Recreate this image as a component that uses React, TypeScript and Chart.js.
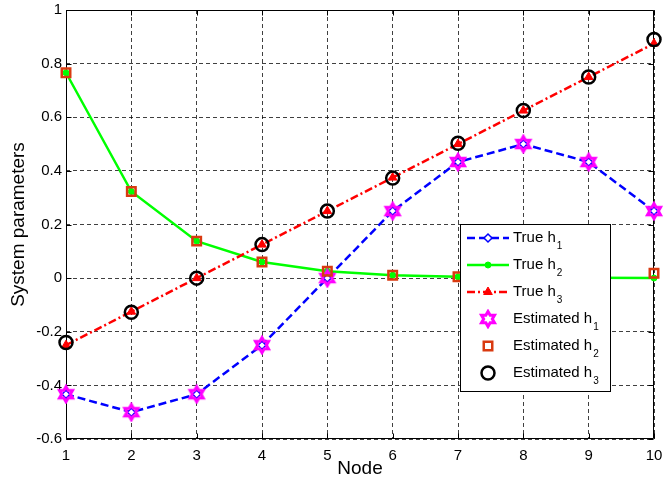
import React, { useEffect, useRef } from 'react';
import { Chart, registerables } from 'chart.js';
import { drawPoint } from 'chart.js/helpers';

Chart.register(...registerables);

const nodes = [1, 2, 3, 4, 5, 6, 7, 8, 9, 10];
const trueH1 = [-0.433, -0.5, -0.433, -0.25, 0, 0.25, 0.433, 0.5, 0.433, 0.25];
const trueH2 = [0.766, 0.323, 0.138, 0.06, 0.026, 0.011, 0.005, 0.002, 0.001, 0.0004];
const trueH3 = [-0.25, -0.125, 0, 0.125, 0.25, 0.375, 0.5, 0.625, 0.75, 0.875];
const estH1 = [-0.433, -0.5, -0.433, -0.25, 0, 0.25, 0.433, 0.5, 0.433, 0.25];
const estH2 = [0.766, 0.323, 0.138, 0.06, 0.026, 0.011, 0.005, 0.002, 0.001, 0.018];
const estH3 = [-0.24, -0.127, 0, 0.125, 0.25, 0.373, 0.503, 0.625, 0.75, 0.89];
const legendNames = ['True h', 'True h', 'True h', 'Estimated h', 'Estimated h', 'Estimated h'];
const legendSubs = ['1', '2', '3', '1', '2', '3'];
const xTitle = 'Node';
const yTitle = 'System parameters';

const FONT = '"Liberation Sans", Arial, Helvetica, sans-serif';

function makeStar(): HTMLCanvasElement {
  const c = document.createElement('canvas');
  c.width = 20;
  c.height = 20;
  const g = c.getContext('2d')!;
  const cx = 10, cy = 10, ro = 7.5, ri = 7.5 / Math.sqrt(3);
  g.beginPath();
  for (let k = 0; k < 12; k++) {
    const r = k % 2 === 0 ? ro : ri;
    const a = -Math.PI / 2 + (k * Math.PI) / 6;
    const px = cx + r * Math.cos(a);
    const py = cy + r * Math.sin(a);
    if (k === 0) g.moveTo(px, py);
    else g.lineTo(px, py);
  }
  g.closePath();
  g.strokeStyle = '#ff00ff';
  g.lineWidth = 3;
  g.lineJoin = 'miter';
  g.stroke();
  return c;
}

const pts = (ys: number[]) => nodes.map((n, i) => ({ x: n, y: ys[i] }));

const framePlugin = {
  id: 'matlabFrame',
  beforeDatasetsDraw(chart: any) {
    const { ctx, chartArea: a, scales } = chart;
    ctx.save();
    ctx.strokeStyle = '#000';
    ctx.lineWidth = 1;
    ctx.setLineDash([]);
    ctx.beginPath();
    const L = Math.round(a.left) + 0.5, R = Math.round(a.right) - 0.5;
    const T = Math.round(a.top) + 0.5, B = Math.round(a.bottom) - 0.5;
    ctx.rect(L, T, R - L, B - T);
    const len = 5;
    scales.x.ticks.forEach((t: any) => {
      const px = Math.round(scales.x.getPixelForValue(t.value)) + 0.5;
      ctx.moveTo(px, B); ctx.lineTo(px, B - len);
      ctx.moveTo(px, T); ctx.lineTo(px, T + len);
    });
    scales.y.ticks.forEach((t: any) => {
      const py = Math.round(scales.y.getPixelForValue(t.value)) + 0.5;
      ctx.moveTo(L, py); ctx.lineTo(L + len, py);
      ctx.moveTo(R, py); ctx.lineTo(R - len, py);
    });
    ctx.stroke();
    ctx.restore();
  },
  afterDraw(chart: any) {
    const ctx = chart.ctx;
    const L = 460, T = 224, R = 610, B = 391;
    ctx.save();
    ctx.fillStyle = '#fff';
    ctx.fillRect(L, T, R - L, B - T);
    ctx.strokeStyle = '#000';
    ctx.lineWidth = 1;
    ctx.setLineDash([]);
    ctx.strokeRect(L + 0.5, T + 0.5, R - L, B - T);
    const list = chart.data.datasets.map((ds: any, i: number) => ({ ds, i }));
    list.sort((p: any, q: any) => p.ds.legendIndex - q.ds.legendIndex);
    list.forEach(({ ds }: any, row: number) => {
      const y = 238 + row * 27;
      if (ds.showLine !== false) {
        ctx.beginPath();
        ctx.setLineDash(ds.borderDash || []);
        ctx.strokeStyle = ds.borderColor;
        ctx.lineWidth = ds.borderWidth;
        ctx.moveTo(467, y);
        ctx.lineTo(509, y);
        ctx.stroke();
        ctx.setLineDash([]);
      }
      ctx.strokeStyle = ds.pointBorderColor;
      ctx.fillStyle = ds.pointBackgroundColor;
      ctx.lineWidth = ds.pointBorderWidth;
      drawPoint(ctx, { pointStyle: ds.pointStyle, radius: ds.pointRadius, rotation: 0, borderWidth: ds.pointBorderWidth } as any, 488, y);
      ctx.fillStyle = '#000';
      ctx.textBaseline = 'alphabetic';
      ctx.textAlign = 'left';
      ctx.font = `15px ${FONT}`;
      const name = legendNames[ds.legendIndex];
      ctx.fillText(name, 513, y + 4);
      const w = ctx.measureText(name).width;
      ctx.font = `10px ${FONT}`;
      ctx.fillText(legendSubs[ds.legendIndex], 513 + w + 1, y + 11);
    });
    ctx.restore();
  },
};

export default function App() {
  const ref = useRef<HTMLCanvasElement>(null);
  useEffect(() => {
    document.body.style.margin = '0';
    const star = makeStar();
    const chart = new Chart(ref.current!, {
      type: 'line',
      data: {
        datasets: [
          {
            label: 'True h1', legendIndex: 0, data: pts(trueH1), order: 6,
            borderColor: '#0000ff', borderWidth: 2.5, borderDash: [8, 4],
            pointStyle: 'rectRot', pointRadius: 4, pointBorderColor: '#0000ff', pointBackgroundColor: '#ffffff', pointBorderWidth: 1.5,
          },
          {
            label: 'True h2', legendIndex: 1, data: pts(trueH2), order: 5,
            borderColor: '#00ff00', borderWidth: 2.5,
            pointStyle: 'circle', pointRadius: 3, pointBorderColor: '#00ff00', pointBackgroundColor: '#00ff00', pointBorderWidth: 1,
          },
          {
            label: 'True h3', legendIndex: 2, data: pts(trueH3), order: 4,
            borderColor: '#ff0000', borderWidth: 2.5, borderDash: [8, 3, 2, 3],
            pointStyle: 'triangle', pointRadius: 5, pointBorderColor: '#ff0000', pointBackgroundColor: '#ff0000', pointBorderWidth: 1,
          },
          {
            label: 'Estimated h1', legendIndex: 3, data: pts(estH1), order: 3, showLine: false,
            borderColor: '#ff00ff', borderWidth: 0,
            pointStyle: star, pointRadius: 7, pointBorderColor: '#ff00ff', pointBackgroundColor: '#ff00ff', pointBorderWidth: 2,
          },
          {
            label: 'Estimated h2', legendIndex: 4, data: pts(estH2), order: 2, showLine: false,
            borderColor: '#d93a10', borderWidth: 0,
            pointStyle: 'rect', pointRadius: 6, pointBorderColor: '#d93a10', pointBackgroundColor: 'rgba(0,0,0,0)', pointBorderWidth: 2.5,
          },
          {
            label: 'Estimated h3', legendIndex: 5, data: pts(estH3), order: 1, showLine: false,
            borderColor: '#000000', borderWidth: 0,
            pointStyle: 'circle', pointRadius: 6.5, pointBorderColor: '#000000', pointBackgroundColor: 'rgba(0,0,0,0)', pointBorderWidth: 2.5,
          },
        ].map((d: any) => ({ ...d, clip: false, fill: false, tension: 0, pointHoverRadius: d.pointRadius })) as any,
      },
      options: {
        animation: false,
        responsive: false,
        events: [],
        layout: { padding: { top: 10, right: 6, left: 0, bottom: 0 } },
        plugins: { legend: { display: false }, tooltip: { enabled: false } },
        scales: {
          x: {
            type: 'linear', min: 1, max: 10,
            ticks: { stepSize: 1, color: '#000', font: { family: FONT, size: 15 }, padding: 8, maxRotation: 0 },
            grid: { color: 'rgba(0,0,0,0.75)', lineWidth: 1, drawTicks: false, tickLength: 0 },
            border: { display: false, dash: [4, 3] },
            title: { display: true, text: xTitle, color: '#000', font: { family: FONT, size: 19 }, padding: { top: 0, bottom: 4 } },
            afterFit: (s: any) => { s.height = 45; s.paddingRight = 0; s.paddingLeft = 0; },
          },
          y: {
            type: 'linear', min: -0.6, max: 1,
            ticks: {
              stepSize: 0.2, color: '#000', font: { family: FONT, size: 15 }, padding: 4,
              callback: (v: any) => String(Math.round(Number(v) * 10) / 10),
            },
            grid: { color: 'rgba(0,0,0,0.75)', lineWidth: 1, drawTicks: false, tickLength: 0 },
            border: { display: false, dash: [4, 3] },
            title: { display: true, text: yTitle, color: '#000', font: { family: FONT, size: 19 }, padding: { top: 7, bottom: 0 } },
            afterFit: (s: any) => { s.width = 66; s.paddingTop = 0; s.paddingBottom = 0; },
          },
        },
      },
      plugins: [framePlugin],
    } as any);
    return () => chart.destroy();
  }, []);
  return <canvas ref={ref} width={663} height={484} style={{ display: 'block', width: 663, height: 484 }} />;
}
